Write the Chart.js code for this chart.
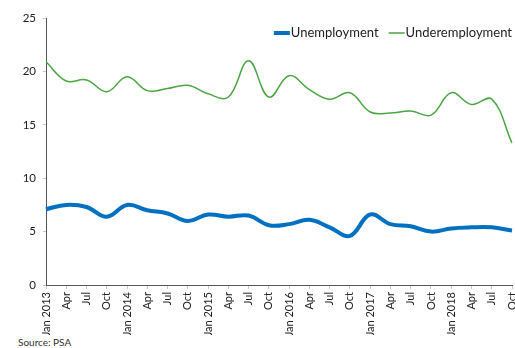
<!DOCTYPE html>
<html>
<head>
<meta charset="utf-8">
<script src="https://cdn.jsdelivr.net/npm/chart.js@4/dist/chart.umd.min.js"></script>
<style>
  body { margin: 0; background: #fff; }
  #wrap { position: relative; width: 515px; height: 348px; }
  #source { position: absolute; left: 18px; top: 336px; font: 10px Lato, sans-serif; color: #333; }
</style>
</head>
<body>
<div id="wrap">
  <canvas id="chart" width="515" height="335"></canvas>
  <div id="source">Source: PSA</div>
</div>
<script>
const labels = ['Jan 2013', 'Apr', 'Jul', 'Oct', 'Jan 2014', 'Apr', 'Jul', 'Oct',
  'Jan 2015', 'Apr', 'Jul', 'Oct', 'Jan 2016', 'Apr', 'Jul', 'Oct',
  'Jan 2017', 'Apr', 'Jul', 'Oct', 'Jan 2018', 'Apr', 'Jul', 'Oct'];
const unemployment = [7.1, 7.5, 7.3, 6.4, 7.5, 7.0, 6.7, 6.0,
  6.6, 6.4, 6.5, 5.6, 5.7, 6.1, 5.4, 4.6,
  6.6, 5.7, 5.5, 5.0, 5.3, 5.4, 5.4, 5.1];
const underemployment = [20.9, 19.1, 19.2, 18.1, 19.5, 18.2, 18.4, 18.7,
  17.9, 17.6, 21.0, 17.6, 19.6, 18.3, 17.4, 18.0,
  16.2, 16.1, 16.3, 15.9, 18.0, 16.9, 17.4, 13.3];
const yTicks = [0, 5, 10, 15, 20, 25];

// legend drawn inside the plot area, top right, like the original
const topLegend = {
  id: 'topLegend',
  afterDraw(chart) {
    const c = chart.ctx;
    const area = chart.chartArea;
    c.save();
    c.font = '13px Lato';
    c.textBaseline = 'middle';
    c.fillStyle = '#222';
    const y = 33;
    const sample = 16, gap = 1, between = 10;
    const sets = chart.data.datasets;
    let total = 0;
    sets.forEach((d, i) => {
      total += sample + gap + c.measureText(d.label).width + (i ? between : 0);
    });
    let x = area.right - total;
    sets.forEach((d, i) => {
      if (i) x += between;
      c.strokeStyle = d.borderColor;
      c.lineWidth = d.borderWidth;
      c.beginPath();
      c.moveTo(x, y);
      c.lineTo(x + sample, y);
      c.stroke();
      x += sample + gap;
      c.fillText(d.label, x, y);
      x += c.measureText(d.label).width;
    });
    c.restore();
  }
};

const ctx = document.getElementById('chart').getContext('2d');
new Chart(ctx, {
  type: 'line',
  data: {
    labels: labels,
    datasets: [{
      label: 'Unemployment',
      data: unemployment,
      borderColor: '#0070C0',
      borderWidth: 4,
      pointRadius: 0,
      tension: 0.4
    }, {
      label: 'Underemployment',
      data: underemployment,
      borderColor: '#4AA542',
      borderWidth: 1.5,
      pointRadius: 0,
      tension: 0.4
    }]
  },
  options: {
    responsive: false,
    animation: false,
    layout: { padding: { top: 18, right: 3, left: 0, bottom: 0 } },
    plugins: {
      legend: { display: false },
      tooltip: { enabled: false }
    },
    scales: {
      x: {
        grid: { drawOnChartArea: false, tickLength: 4, color: '#c8c8c8' },
        border: { color: '#555', width: 1 },
        ticks: {
          autoSkip: false, minRotation: 90, maxRotation: 90,
          color: '#222', font: { family: 'Lato', size: 11 }, padding: 3
        },
        afterFit: s => { s.height = 50; s.paddingLeft = 0; s.paddingRight = 0; }
      },
      y: {
        min: 0, max: 25,
        afterBuildTicks: s => { s.ticks = yTicks.map(v => ({ value: v })); },
        grid: { drawOnChartArea: false, tickLength: 3, color: '#c8c8c8' },
        border: { color: '#555', width: 1 },
        ticks: { color: '#222', font: { family: 'Lato', size: 11.5 }, padding: 7 },
        afterFit: s => { s.width = 46; s.paddingTop = 0; s.paddingBottom = 0; }
      }
    }
  },
  plugins: [topLegend]
});
</script>
</body>
</html>
